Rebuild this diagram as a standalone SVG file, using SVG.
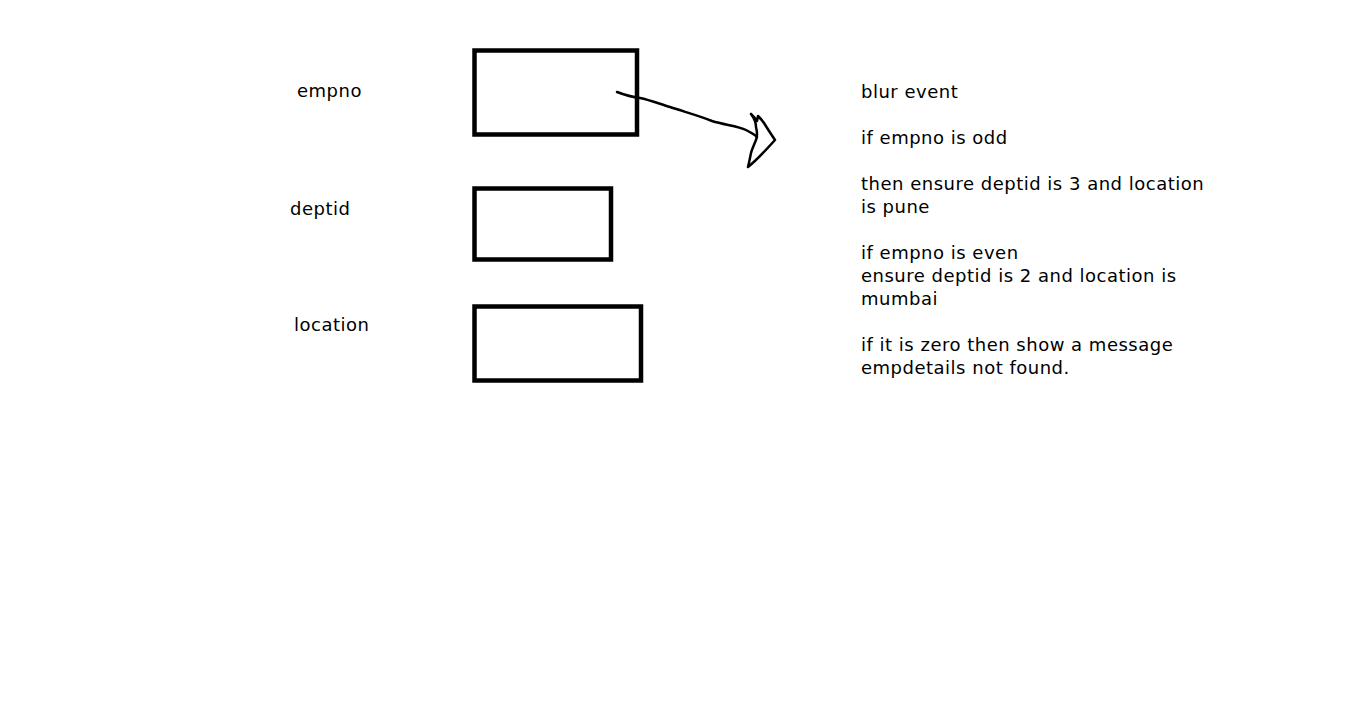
<svg xmlns="http://www.w3.org/2000/svg" width="1360" height="715" viewBox="0 0 1360 715">
<style>
text{font-family:"DejaVu Sans","Verdana",sans-serif;font-size:18px;letter-spacing:0.5px;fill:#000}
.box{fill:none;stroke:#000;stroke-width:4.5}
.ink{fill:none;stroke:#000;stroke-width:2.5;stroke-linecap:round;stroke-linejoin:round}
</style>
<rect width="1360" height="715" fill="#fff"/>
<g id="empno">
<text x="297" y="97">empno</text>
<rect class="box" x="474.5" y="50.5" width="162.5" height="84"/>
</g>
<g id="deptid">
<text x="290" y="215">deptid</text>
<rect class="box" x="474.5" y="188.5" width="136.5" height="71"/>
</g>
<g id="location">
<text x="294" y="331">location</text>
<rect class="box" x="474.5" y="306.5" width="166.5" height="74"/>
</g>
<g id="notes">
<text x="861" y="98">blur event</text>
<text x="861" y="144">if empno is odd</text>
<text x="861" y="190">then ensure deptid is 3 and location</text>
<text x="861" y="213">is pune</text>
<text x="861" y="259">if empno is even</text>
<text x="861" y="282">ensure deptid is 2 and location is</text>
<text x="861" y="305">mumbai</text>
<text x="861" y="351">if it is zero then show a message</text>
<text x="861" y="374">empdetails not found.</text>
</g>
<g id="connectors">
<path class="ink" d="M617,92 C625,95 632,97 640,98 C650,100 660,104 670,107 C685,112 700,116 712,121 C725,125 738,126 746,130 C750,132 754,134 757,137"/>
<path class="ink" d="M751,114 C754,118 756,122 756,127 C757,131 758,135 756,140 C754,145 752,149 751,153 C750,158 749,163 748,167 C757,160 766,150 775,140 C771,134 767,128 764,123 C762,120 760,118 758,116 L757,121 C755,118 753,116 751,114"/>
</g>
</svg>
